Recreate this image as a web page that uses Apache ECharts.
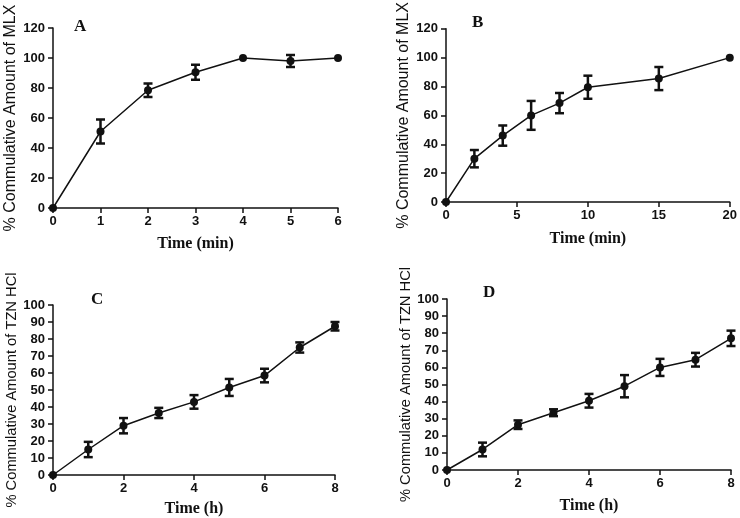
<!DOCTYPE html>
<html>
<head>
<meta charset="utf-8">
<script src="https://cdn.jsdelivr.net/npm/echarts@6/dist/echarts.min.js"></script>
<style>
  html, body { margin: 0; padding: 0; background: #fff; }
  #chart { width: 740px; height: 518px; }
</style>
</head>
<body>
<div id="chart"></div>
<script>
// panel A: MLX, minutes
const timeA = [0, 1, 2, 3, 4, 5, 6];
const meanA = [0, 51, 78.5, 90.5, 100, 98, 100];
const sdA = [0, 8, 4.5, 5, 0, 4, 0];
// panel B: MLX, minutes
const timeB = [0, 2, 4, 6, 8, 10, 15, 20];
const meanB = [0, 30, 46, 60, 68.5, 79.5, 85.5, 100];
const sdB = [0, 6, 7, 10, 7, 8, 8, 0];
// panel C: TZN HCl, hours
const timeC = [0, 1, 2, 3, 4, 5, 6, 7, 8];
const meanC = [0, 15, 29, 36.5, 43, 51.5, 58.5, 75, 87.5];
const sdC = [0, 4.5, 4.5, 3, 4, 5, 4, 3, 2.5];
// panel D: TZN HCl, hours
const timeD = [0, 1, 2, 3, 4, 5, 6, 7, 8];
const meanD = [0, 12, 26.5, 33.5, 40.5, 49, 60, 64.5, 77];
const sdD = [0, 4, 2.5, 2, 4, 6.5, 5, 4, 4.5];

const panels = [
  { tag: 'A', t: timeA, m: meanA, s: sdA, xmax: 6, xint: 1, ymax: 120, yint: 20,
    xname: 'Time (min)', yname: '% Commulative Amount of MLX', xgap: 28, ysize: 16,
    grid: { left: 53, top: 28, width: 285, height: 180 }, tagPos: [74, 18] },
  { tag: 'B', t: timeB, m: meanB, s: sdB, xmax: 20, xint: 5, ymax: 120, yint: 20,
    xname: 'Time (min)', yname: '% Commulative Amount of MLX', xgap: 29, ysize: 16,
    grid: { left: 446, top: 23, width: 285, height: 179 }, tagPos: [472, 14] },
  { tag: 'C', t: timeC, m: meanC, s: sdC, xmax: 8, xint: 2, ymax: 100, yint: 10,
    xname: 'Time (h)', yname: '% Commulative Amount of TZN HCl', xgap: 26, ysize: 14.7,
    grid: { left: 53, top: 305, width: 282, height: 172 }, tagPos: [91, 291] },
  { tag: 'D', t: timeD, m: meanD, s: sdD, xmax: 8, xint: 2, ymax: 100, yint: 10,
    xname: 'Time (h)', yname: '% Commulative Amount of TZN HCl', xgap: 28, ysize: 14.7,
    grid: { left: 447, top: 299, width: 284, height: 171 }, tagPos: [483, 284] }
];

const tickFont = { color: '#111', fontFamily: 'Liberation Sans, Arial', fontWeight: 'bold', fontSize: 13 };
const axisStyle = { lineStyle: { color: '#111', width: 1.5 } };

const grid = [], xAxis = [], yAxis = [], series = [], graphic = [];

panels.forEach((p, i) => {
  grid.push(p.grid);
  xAxis.push({
    type: 'value', gridIndex: i, min: 0, max: p.xmax, interval: p.xint,
    name: p.xname, nameLocation: 'middle', nameGap: p.xgap,
    nameTextStyle: { fontFamily: 'Liberation Serif, Times New Roman', fontWeight: 'bold', fontSize: 16, color: '#111' },
    axisLine: axisStyle, axisTick: { show: true, length: 5, lineStyle: { color: '#111', width: 1.5 } },
    axisLabel: Object.assign({ margin: 7 }, tickFont), splitLine: { show: false }
  });
  yAxis.push({
    type: 'value', gridIndex: i, min: 0, max: p.ymax, interval: p.yint,
    name: p.yname, nameLocation: 'middle', nameGap: 34,
    nameTextStyle: { fontFamily: 'Liberation Sans, Arial', fontSize: p.ysize, color: '#111' },
    axisLine: axisStyle, axisTick: { show: true, length: 5, lineStyle: { color: '#111', width: 1.5 } },
    axisLabel: Object.assign({ margin: 8 }, tickFont), splitLine: { show: false }
  });
  series.push({
    type: 'line', xAxisIndex: i, yAxisIndex: i,
    data: p.t.map((x, k) => [x, p.m[k]]),
    symbol: 'circle', symbolSize: 8, showSymbol: true,
    itemStyle: { color: '#111' }, lineStyle: { color: '#111', width: 1.5 },
    animation: false, z: 3
  });
  series.push({
    type: 'custom', xAxisIndex: i, yAxisIndex: i,
    data: p.t.map((x, k) => [x, p.m[k] - p.s[k], p.m[k] + p.s[k]]),
    renderItem: function (params, api) {
      const x = api.value(0), lo = api.value(1), hi = api.value(2);
      if (hi - lo <= 0) return null;
      const a = api.coord([x, hi]), b = api.coord([x, lo]);
      const w = 4.5;
      const st = { stroke: '#111', lineWidth: 2.5 };
      return {
        type: 'group',
        children: [
          { type: 'line', shape: { x1: a[0], y1: a[1], x2: b[0], y2: b[1] }, style: st },
          { type: 'line', shape: { x1: a[0] - w, y1: a[1], x2: a[0] + w, y2: a[1] }, style: st },
          { type: 'line', shape: { x1: b[0] - w, y1: b[1], x2: b[0] + w, y2: b[1] }, style: st }
        ]
      };
    },
    animation: false, z: 4
  });
  graphic.push({
    type: 'text', left: p.tagPos[0], top: p.tagPos[1],
    style: { text: p.tag, fill: '#111', font: 'bold 17px "Liberation Serif", "Times New Roman"' }
  });
});

const chart = echarts.init(document.getElementById('chart'));
chart.setOption({
  backgroundColor: '#fff',
  animation: false,
  grid: grid,
  xAxis: xAxis,
  yAxis: yAxis,
  series: series,
  graphic: graphic
});
</script>
</body>
</html>
